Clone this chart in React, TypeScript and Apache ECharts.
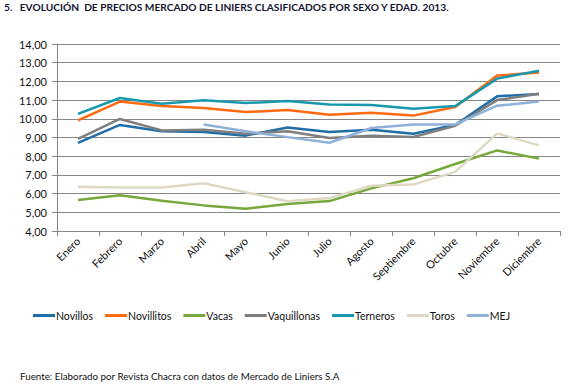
import React, { useEffect, useRef } from "react";
import * as echarts from "echarts";

const months = ["Enero", "Febrero", "Marzo", "Abril", "Mayo", "Junio", "Julio", "Agosto", "Septiembre", "Octubre", "Noviembre", "Diciembre"];

const novillos = [8.71, 9.67, 9.33, 9.3, 9.1, 9.54, 9.29, 9.42, 9.2, 9.67, 11.2, 11.33];
const novillitos = [9.92, 10.92, 10.68, 10.58, 10.36, 10.47, 10.22, 10.33, 10.17, 10.63, 12.31, 12.47];
const vacas = [5.66, 5.91, 5.62, 5.37, 5.19, 5.44, 5.6, 6.28, 6.82, 7.58, 8.31, 7.87];
const vaquillonas = [8.92, 9.99, 9.38, 9.42, 9.2, 9.33, 8.97, 9.1, 9.03, 9.63, 11.0, 11.34];
const terneros = [10.26, 11.11, 10.81, 10.99, 10.84, 10.95, 10.76, 10.74, 10.54, 10.68, 12.15, 12.57];
const toros = [6.37, 6.32, 6.32, 6.55, 6.07, 5.59, 5.76, 6.42, 6.48, 7.16, 9.22, 8.58];
const mej: (number | null)[] = [null, null, null, 9.69, 9.33, 9.02, 8.72, 9.51, 9.7, 9.7, 10.7, 10.92];

const seriesNames = ["Novillos", "Novillitos", "Vacas", "Vaquillonas", "Terneros", "Toros", "MEJ"];
const seriesData = [novillos, novillitos, vacas, vaquillonas, terneros, toros, mej];
const seriesColors = ["#1F6EA8", "#FF6A10", "#77A83C", "#7F7F7F", "#1798AC", "#DDD9C3", "#8EB1DA"];

const titleText = "5.   EVOLUCIÓN  DE PRECIOS MERCADO DE LINIERS CLASIFICADOS POR SEXO Y EDAD. 2013.";
const sourceText = "Fuente: Elaborado por Revista Chacra con datos de Mercado de Liniers S.A";

const FONT = "Lato, 'Open Sans', sans-serif";

export default function App() {
  const ref = useRef<HTMLDivElement>(null);
  useEffect(() => {
    if (!ref.current) return;
    const chart = echarts.init(ref.current, null, { renderer: "svg" });
    chart.setOption({
      animation: false,
      backgroundColor: "#ffffff",
      textStyle: { fontFamily: FONT },
      grid: { left: 57, right: 11, top: 44, bottom: 158 },
      graphic: [
        {
          type: "text",
          left: 4,
          top: 2,
          style: { text: titleText, fontFamily: FONT, fontWeight: "bold", fontSize: 10.2, fill: "#141432" },
        },
        {
          type: "text",
          left: 20,
          top: 371,
          style: { text: sourceText, fontFamily: FONT, fontSize: 9.8, fill: "#111111" },
        },
      ],
      legend: {
        left: 28,
        top: 305,
        itemWidth: 22,
        itemHeight: 3,
        itemGap: 12,
        icon: "rect",
        textStyle: { fontFamily: FONT, fontSize: 10.5, color: "#111111", padding: [0, 0, 0, -4] },
        data: seriesNames,
      },
      xAxis: {
        type: "category",
        data: months,
        boundaryGap: true,
        axisLine: { lineStyle: { color: "#868686", width: 1 } },
        axisTick: { show: true, length: 5, lineStyle: { color: "#868686" } },
        axisLabel: { rotate: 45, fontFamily: FONT, fontSize: 11, color: "#111111", margin: 8, interval: 0 },
      },
      yAxis: {
        type: "value",
        min: 4,
        max: 14,
        interval: 1,
        axisLine: { show: true, lineStyle: { color: "#868686", width: 1 } },
        axisTick: { show: true, length: 5, lineStyle: { color: "#868686" } },
        splitLine: { lineStyle: { color: "#868686", width: 1 } },
        axisLabel: {
          fontFamily: FONT,
          fontSize: 11,
          color: "#111111",
          margin: 10,
          formatter: (v: number) => v.toFixed(2).replace(".", ","),
        },
      },
      series: seriesNames.map((name, i) => ({
        name,
        type: "line",
        data: seriesData[i],
        symbol: "none",
        connectNulls: false,
        color: seriesColors[i],
        lineStyle: { width: 2.5, color: seriesColors[i] },
      })),
    });
    return () => chart.dispose();
  }, []);
  return <div ref={ref} style={{ width: 571, height: 389, position: "absolute", left: 0, top: 0 }} />;
}
